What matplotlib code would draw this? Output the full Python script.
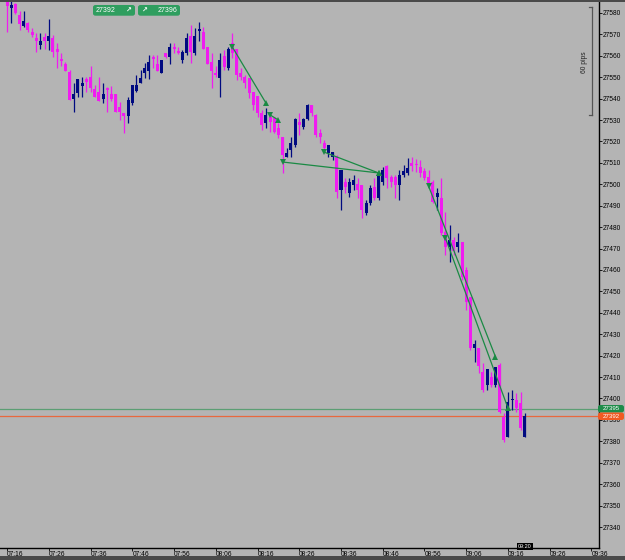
import matplotlib
matplotlib.use("Agg")
import matplotlib.pyplot as plt
from matplotlib.patches import Rectangle, FancyBboxPatch

plt.rcParams['font.family'] = ['Liberation Sans', 'DejaVu Sans']

# ---------------- data ----------------
time_labels = ["07:16", "07:26", "07:36", "07:46", "07:56", "08:06", "08:16", "08:26",
               "08:36", "08:46", "08:56", "09:06", "09:16", "09:26", "09:36"]
price_ticks = list(range(27340, 27590, 10))

opens = [27585.3, 27582.2, 27584.2, 27579.1, 27573.9, 27575.2, 27571.3, 27568.3, 27565.1, 27568.9,
         27567.1, 27568.2, 27563.2, 27558.4, 27556.0, 27552.3, 27539.7, 27542.8, 27545.9, 27549.2,
         27550.0, 27544.4, 27543.3, 27539.7, 27544.8, 27542.2, 27542.2, 27536.3, 27533.2, 27531.9,
         27538.1, 27543.7, 27547.2, 27552.1, 27553.1, 27559.6, 27556.2, 27552.1, 27561.2, 27559.3,
         27564.3, 27562.3, 27558.1, 27561.2, 27569.3, 27561.2, 27571.7, 27571.3, 27564.3, 27557.3,
         27551.9, 27549.8, 27560.1, 27554.2, 27566.1, 27563.0, 27551.9, 27550.0, 27549.5, 27543.3,
         27541.3, 27533.2, 27528.5, 27531.6, 27530.8, 27526.2, 27522.2, 27512.9, 27516.0, 27518.4,
         27529.2, 27526.6, 27530.4, 27537.1, 27532.4, 27524.1, 27519.5, 27514.5, 27512.9, 27512.9,
         27497.4, 27501.2, 27495.8, 27499.7, 27500.0, 27499.7, 27486.5, 27491.2, 27498.9, 27493.5,
         27501.2, 27508.6, 27503.3, 27503.3, 27499.7, 27504.4, 27505.2, 27510.1, 27509.6, 27508.3,
         27506.4, 27503.6, 27501.2, 27494.2, 27493.5, 27477.9, 27470.9, 27474.0, 27470.9, 27473.2,
         27460.0, 27447.5, 27423.4, 27423.4, 27412.5, 27406.3, 27410.2, 27406.3, 27415.6, 27391.5,
         27382.2, 27399.1, 27399.3, 27397.8, 27382.2]
highs = [27586.0, 27586.0, 27584.5, 27581.1, 27581.0, 27575.8, 27572.9, 27570.5, 27570.5, 27570.5,
         27577.2, 27569.7, 27565.8, 27561.2, 27557.3, 27553.4, 27547.2, 27549.0, 27550.0, 27550.3,
         27555.3, 27546.4, 27550.0, 27547.2, 27545.3, 27545.8, 27542.2, 27538.6, 27533.2, 27540.9,
         27546.4, 27551.0, 27553.4, 27556.5, 27560.4, 27560.4, 27560.4, 27558.1, 27561.5, 27565.9,
         27566.1, 27564.3, 27562.7, 27570.5, 27574.4, 27572.9, 27575.9, 27573.6, 27564.3, 27561.2,
         27555.0, 27561.5, 27562.7, 27564.3, 27570.5, 27563.0, 27554.2, 27551.0, 27549.5, 27543.3,
         27541.3, 27534.7, 27535.5, 27533.2, 27531.6, 27528.5, 27522.2, 27516.8, 27522.2, 27530.8,
         27533.2, 27531.0, 27537.5, 27537.1, 27532.8, 27525.7, 27520.7, 27518.4, 27515.2, 27513.7,
         27506.7, 27502.8, 27502.8, 27504.4, 27502.8, 27499.7, 27492.7, 27499.7, 27502.8, 27505.2,
         27508.3, 27509.0, 27504.4, 27504.4, 27506.7, 27509.0, 27512.2, 27512.8, 27511.7, 27511.4,
         27507.5, 27506.7, 27502.0, 27498.2, 27502.8, 27487.2, 27481.0, 27475.6, 27477.1, 27473.2,
         27461.5, 27447.5, 27427.3, 27423.4, 27416.4, 27413.8, 27412.5, 27414.9, 27416.4, 27393.2,
         27403.2, 27404.0, 27402.6, 27403.2, 27393.2]
lows = [27571.3, 27575.3, 27579.6, 27572.1, 27573.6, 27571.3, 27568.7, 27561.9, 27563.0, 27563.0,
        27562.7, 27559.6, 27554.2, 27555.0, 27552.9, 27539.4, 27533.9, 27540.9, 27540.9, 27543.3,
        27543.3, 27540.9, 27539.1, 27537.8, 27533.9, 27538.9, 27533.9, 27530.0, 27524.1, 27528.8,
        27537.0, 27543.3, 27547.2, 27549.5, 27549.0, 27554.2, 27552.9, 27552.1, 27558.8, 27556.2,
        27561.2, 27560.7, 27556.5, 27560.4, 27556.8, 27560.4, 27567.1, 27563.0, 27556.2, 27544.8,
        27550.3, 27540.9, 27553.4, 27553.4, 27558.8, 27548.7, 27548.7, 27544.8, 27540.2, 27534.7,
        27531.6, 27525.4, 27526.2, 27524.6, 27523.8, 27521.5, 27505.2, 27512.9, 27512.9, 27517.6,
        27523.0, 27526.0, 27530.0, 27532.0, 27522.2, 27519.2, 27514.5, 27512.9, 27511.4, 27493.5,
        27488.0, 27495.8, 27494.2, 27497.4, 27493.5, 27484.1, 27485.7, 27490.4, 27492.7, 27492.7,
        27499.7, 27498.2, 27498.9, 27493.5, 27492.7, 27503.6, 27504.4, 27506.3, 27505.9, 27503.6,
        27502.0, 27498.2, 27491.2, 27488.0, 27476.3, 27467.0, 27463.9, 27467.0, 27468.6, 27455.4,
        27441.3, 27422.7, 27417.2, 27411.8, 27403.2, 27404.0, 27405.5, 27405.5, 27393.2, 27379.7,
        27382.2, 27394.6, 27393.9, 27385.3, 27382.2]
closes = [27583.0, 27583.6, 27580.1, 27574.9, 27576.3, 27572.1, 27569.9, 27566.9, 27567.1, 27567.1,
          27569.3, 27561.9, 27561.9, 27557.7, 27552.9, 27539.4, 27542.2, 27549.0, 27547.2, 27547.9,
          27544.8, 27540.9, 27539.1, 27542.2, 27544.1, 27539.7, 27533.9, 27533.9, 27532.0, 27539.4,
          27546.4, 27546.4, 27549.5, 27554.2, 27557.3, 27558.4, 27552.9, 27558.1, 27559.3, 27564.3,
          27563.1, 27561.2, 27561.9, 27568.2, 27561.9, 27569.3, 27572.4, 27563.0, 27556.2, 27553.1,
          27551.1, 27558.1, 27554.9, 27563.0, 27561.2, 27551.1, 27550.0, 27547.5, 27542.8, 27537.0,
          27533.2, 27527.7, 27532.4, 27529.2, 27524.6, 27523.0, 27513.7, 27514.5, 27519.2, 27530.4,
          27527.7, 27530.4, 27537.1, 27533.2, 27523.0, 27522.2, 27516.8, 27518.4, 27515.2, 27496.6,
          27506.7, 27498.9, 27501.2, 27502.0, 27497.4, 27488.0, 27491.2, 27498.2, 27493.5, 27504.4,
          27506.7, 27502.8, 27501.2, 27499.7, 27504.4, 27506.4, 27507.5, 27508.6, 27509.0, 27505.2,
          27502.8, 27500.5, 27491.9, 27496.1, 27477.1, 27470.9, 27474.0, 27469.0, 27473.2, 27456.9,
          27445.2, 27423.4, 27425.4, 27415.2, 27404.0, 27413.8, 27406.3, 27414.7, 27393.9, 27380.6,
          27398.5, 27399.4, 27395.4, 27386.0, 27392.0]

# trades (bar index, price): open -> close
trade_open_idx = [54, 63, 66, 76, 101, 105]
trade_open_px = [27564.0, 27532.4, 27510.4, 27515.0, 27499.0, 27475.0]
trade_close_idx = [62, 65, 89, 89, 117, 120]
trade_close_px = [27538.0, 27530.0, 27505.3, 27505.3, 27419.5, 27395.5]

ask_price = 27395
bid_price = 27392
button_sell = "27392"
button_buy = "27396"
pips_label = "60 pips"
cursor_time = "09:20"

# ---------------- style ----------------
BG = "#b4b4b4"
BEAR = "#f01cf0"
BULL = "#000a80"
TRADE = "#1a8a44"
ASK_C = "#5c9e74"
BID_C = "#e8683e"

W, H = 625, 560
fig = plt.figure(figsize=(W / 100, H / 100), dpi=100, facecolor=BG)
ax = fig.add_axes([0, 12 / H, 599 / W, 546 / H])
ax.set_facecolor(BG)

# candles
for i, (o, h, l, c) in enumerate(zip(opens, highs, lows, closes)):
    col = BULL if c >= o else BEAR
    ax.vlines(i, l, h, color=col, lw=0.9, zorder=2)
    ax.bar(i, max(abs(c - o), 0.5), bottom=min(o, c), width=0.72, color=col,
           lw=0, zorder=3)

# trade lines
for oi, op, ci, cp in zip(trade_open_idx, trade_open_px, trade_close_idx, trade_close_px):
    ax.plot([oi, ci], [op, cp], color=TRADE, lw=0.9, zorder=4)
    ax.plot(oi, op, marker="v", color=TRADE, ms=4.5, zorder=5, mew=0)
    ax.plot(ci, cp, marker="^", color=TRADE, ms=4.5, zorder=5, mew=0)

# ask / bid lines
ax.axhline(ask_price, color=ASK_C, lw=0.9, zorder=1)
ax.axhline(bid_price, color=BID_C, lw=0.9, zorder=1)

ax.set_xlim(-1.68, 141.8)
ax.set_ylim(27330.2, 27585.1)

# axes styling
for s in ["top", "left"]:
    ax.spines[s].set_visible(False)
for s in ["right", "bottom"]:
    ax.spines[s].set_color("black")
    ax.spines[s].set_linewidth(1.0)

ax.yaxis.tick_right()
ax.set_yticks(price_ticks)
ax.set_yticklabels([str(p) for p in price_ticks])
ax.tick_params(axis="y", length=2, width=0.6, pad=1, labelsize=4.8, colors="black")

ax.set_xticks([10 * k for k in range(len(time_labels))])
ax.set_xticklabels(time_labels)
ax.tick_params(axis="x", length=2, width=0.6, pad=0.2, labelsize=4.8, colors="black")
for lbl in ax.get_xticklabels():
    lbl.set_horizontalalignment("left")

# price boxes on the right (drawn in figure pixels)
def px_box(x0, y0, w, h, color):
    fig.add_artist(FancyBboxPatch((x0 / W, 1 - (y0 + h) / H), w / W, h / H,
                                  boxstyle="round,pad=0,rounding_size=0.004",
                                  transform=fig.transFigure, fc=color, ec="none", zorder=9))

px_box(598, 405, 26, 7.5, "#1e8c4a")
px_box(598, 412.5, 26, 7.5, "#f05a22")
fig.text(611 / W, 1 - 408.3 / H, str(ask_price), fontsize=4.4, color="white",
         ha="center", va="center", zorder=10)
fig.text(611 / W, 1 - 416.6 / H, str(bid_price), fontsize=4.4, color="white",
         ha="center", va="center", zorder=10)

# 60 pips bracket
bx = 592 / 599
by0 = 1 - (7.3 - 2) / 546
by1 = 1 - (115 - 2) / 546
ax.plot([bx, bx], [by0, by1], transform=ax.transAxes, color="#555555", lw=0.9, clip_on=False)
ax.plot([bx - 3 / 599, bx], [by0, by0], transform=ax.transAxes, color="#555555", lw=0.9)
ax.plot([bx - 3 / 599, bx], [by1, by1], transform=ax.transAxes, color="#555555", lw=0.9)
ax.text(bx - 4 / 599, 1 - (62 - 2) / 546, pips_label, transform=ax.transAxes, rotation=90,
        fontsize=4.8, va="center", ha="right", color="#222222")

# one-click buttons at top
BTN = "#2f9e5f"
for x0, txt, arrow_right in [(93, button_sell, True), (138, button_buy, False)]:
    fig.add_artist(FancyBboxPatch((x0 / W, 1 - 15.7 / H), 42 / W, 10.7 / H,
                                  boxstyle="round,pad=0,rounding_size=0.004",
                                  transform=fig.transFigure, fc=BTN, ec="none"))
    if arrow_right:
        fig.text((x0 + 2.5) / W, 1 - 10.3 / H, txt, fontsize=5, color="white",
                 va="center", ha="left")
        fig.text((x0 + 35) / W, 1 - 10.3 / H, "\u2197", fontsize=5, color="white",
                 va="center", ha="center", family="DejaVu Sans", weight="bold")
    else:
        fig.text((x0 + 39.5) / W, 1 - 10.3 / H, txt, fontsize=5, color="white",
                 va="center", ha="right")
        fig.text((x0 + 6) / W, 1 - 10.3 / H, "\u2197", fontsize=5, color="white",
                 va="center", ha="center", family="DejaVu Sans", weight="bold")

# cursor time box
fig.text(525 / W, 1 - 546.5 / H, cursor_time, fontsize=4, color="white", ha="center",
         va="center", bbox=dict(boxstyle="square,pad=0.15", fc="black", ec="none"), zorder=20)

# dark strips
fig.add_artist(Rectangle((0, 1 - 2 / H), 1, 2 / H, transform=fig.transFigure,
                         fc="#4a4a4a", ec="none"))
fig.add_artist(Rectangle((0, 0), 1, 4 / H, transform=fig.transFigure,
                         fc="#4a4a4a", ec="none"))

fig.savefig("out.png", dpi=100, facecolor=BG)
